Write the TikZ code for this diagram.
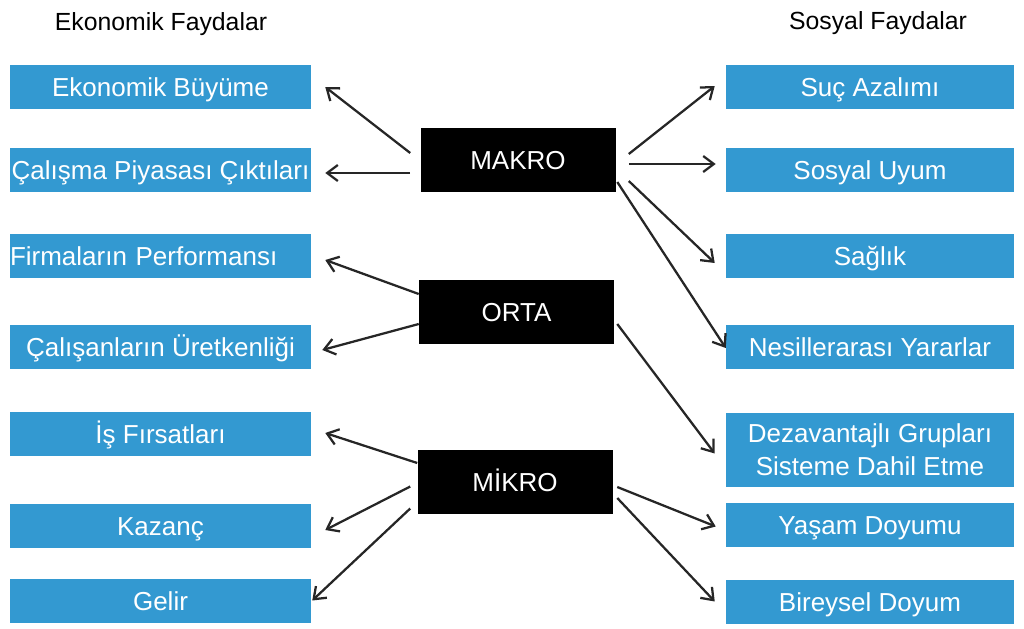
\documentclass[tikz,border=0pt]{standalone}
\usepackage{fontspec}
\setmainfont{Liberation Sans}
\usetikzlibrary{arrows.meta}
\definecolor{kutumavi}{RGB}{51,153,209}
\tikzset{
	baslik/.style = {anchor = base, font = \fontsize{18.6}{22}\selectfont},
	solkutu/.style = {fill = kutumavi, text = white, inner sep = 0pt, minimum width = 225.75pt, minimum height = 33pt, text height = 14.8pt, text depth = 0pt, font = \fontsize{19.5}{24.75}\selectfont},
	sagkutu/.style = {solkutu, minimum width = 216pt},
	siyahkutu/.style = {fill = black, text = white, inner sep = 0pt, minimum width = 146.25pt, minimum height = 48pt, text height = 14.4pt, text depth = 0pt, font = \fontsize{19.5}{24}\selectfont},
	ok/.style = {->, line width = 1.7pt, draw = black!85}
}
\begin{document}
\begin{tikzpicture} [x = 0.75pt, y = -0.75pt, >={Straight Barb[length=8pt, width=12pt]}]
		\useasboundingbox (0,0) rectangle (1024,628);
		% basliklar
		\node [baslik] (ef) at (161,30) {Ekonomik Faydalar};
		\node [baslik] (sf) at (878,29) {Sosyal Faydalar};
		% sol kutular
		\node [solkutu] (eb) at (160.5,87) {Ekonomik Büyüme};
		\node [solkutu] (cpc) at (160.5,170) {Çalışma Piyasası Çıktıları};
		\node [solkutu, text width = 225.75pt, align = left] (fp) at (160.5,256) {Firmaların Performansı};
		\node [solkutu] (cu) at (160.5,347) {Çalışanların Üretkenliği};
		\node [solkutu] (isf) at (160.5,434) {İş Fırsatları};
		\node [solkutu] (kz) at (160.5,525.5) {Kazanç};
		\node [solkutu] (gl) at (160.5,600.5) {Gelir};
		% sag kutular
		\node [sagkutu] (sa) at (870,87) {Suç Azalımı};
		\node [sagkutu] (su) at (870,170) {Sosyal Uyum};
		\node [sagkutu] (sg) at (870,256) {Sağlık};
		\node [sagkutu] (ny) at (870,347) {Nesillerarası Yararlar};
		\node [sagkutu, minimum height = 55.5pt, text height = {}, text depth = {}, align = center] (dg) at (870,449.5) {Dezavantajlı Grupları\\Sisteme Dahil Etme};
		\node [sagkutu] (yd) at (870,525) {Yaşam Doyumu};
		\node [sagkutu] (bd) at (870,601.5) {Bireysel Doyum};
		% orta kutular
		\node [siyahkutu] (makro) at (518,160) {MAKRO};
		\node [siyahkutu] (orta) at (516.5,311.5) {ORTA};
		\node [siyahkutu] (mikro) at (515,481.5) {MİKRO};
		% oklar
		\draw [ok] ([shift={(-10,-7)}]makro.west) -- ([shift={(14,0)}]eb.east);
		\draw [ok] ([shift={(-10,13)}]makro.west) -- ([shift={(14,3)}]cpc.east);
		\draw [ok] ([shift={(13,-6)}]makro.east) -- ([shift={(-11,-1)}]sa.west);
		\draw [ok] ([shift={(13,4)}]makro.east) -- ([shift={(-10,-6)}]su.west);
		\draw [ok] ([shift={(13,21)}]makro.east) -- ([shift={(-11,7)}]sg.west);
		\draw [ok] ([shift={(1.5,22)}]makro.east) -- ([shift={(0,1)}]ny.west);
		\draw [ok] ([shift={(0,-17.5)}]orta.west) -- ([shift={(14,4)}]fp.east);
		\draw [ok] ([shift={(0,12.5)}]orta.west) -- ([shift={(11,3)}]cu.east);
		\draw [ok] ([shift={(3,12.5)}]orta.east) -- ([shift={(-11,4)}]dg.west);
		\draw [ok] ([shift={(0,-18.5)}]mikro.west) -- ([shift={(14,-1)}]isf.east);
		\draw [ok] ([shift={(-7,5)}]mikro.west) -- ([shift={(14,4.5)}]kz.east);
		\draw [ok] ([shift={(-7,27)}]mikro.west) -- ([shift={(1,0)}]gl.east);
		\draw [ok] ([shift={(4.5,5.5)}]mikro.east) -- ([shift={(-10,1.5)}]yd.west);
		\draw [ok] ([shift={(4.5,16.5)}]mikro.east) -- ([shift={(-11,0)}]bd.west);
	\end{tikzpicture}
\end{document}
